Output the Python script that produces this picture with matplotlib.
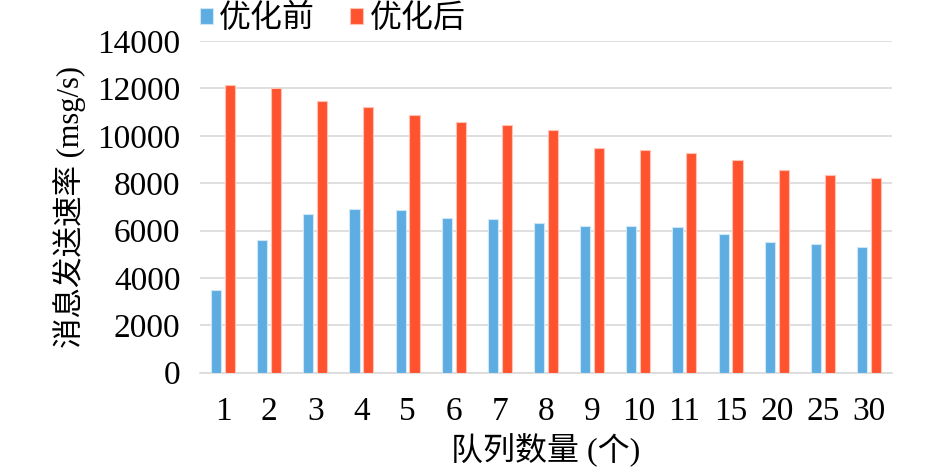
import numpy as np
import matplotlib.pyplot as plt

plt.rcParams['font.family'] = ['Liberation Serif', 'Noto Sans CJK SC']

# 队列数量
categorias = ["1", "2", "3", "4", "5", "6", "7", "8", "9", "10", "11", "15", "20", "25", "30"]
antes = [3480, 5600, 6700, 6900, 6850, 6550, 6500, 6300, 6210, 6210, 6150, 5870, 5510, 5440, 5310]
despues = [12160, 12020, 11480, 11200, 10860, 10580, 10440, 10230, 9470, 9400, 9260, 8980, 8570, 8360, 8220]

azul = "#5dade2"
rojo = "#ff5330"

fig = plt.figure(figsize=(9.46, 4.75), dpi=100)
ax = fig.add_axes([0.2114, 0.2154, 0.7316, 0.6983])

x = np.arange(len(categorias))
w = 0.22
ax.bar(x - 0.15, antes, w, color=azul, edgecolor="#cfe6f7", linewidth=0.8, label="优化前", zorder=3)
ax.bar(x + 0.15, despues, w, color=rojo, edgecolor="#ffc2b3", linewidth=0.8, label="优化后", zorder=3)

ax.set_xlim(-0.5, len(categorias) - 0.5)
ax.set_ylim(0, 14000)
ax.set_yticks(np.arange(0, 14001, 2000))
ax.set_xticks(x)
ax.set_xticklabels(categorias)
ax.grid(axis="y", color="#d9d9d9", linewidth=1.2, zorder=0)
for s in ["top", "right", "left"]:
    ax.spines[s].set_visible(False)
ax.spines["bottom"].set_color("#d9d9d9")
ax.spines["bottom"].set_linewidth(1.2)
ax.tick_params(axis="both", length=0, labelsize=24)
ax.tick_params(axis="y", pad=14)
ax.tick_params(axis="x", pad=17)

ax.set_xlabel("队列数量 (个)", fontsize=23, labelpad=5)
ax.set_ylabel("消息发送速率 (msg/s)", fontsize=22, labelpad=8)

leg = ax.legend(loc="center left", bbox_to_anchor=(0.0, 1.068), ncol=2, frameon=False,
                prop={"family": ["Noto Sans CJK SC"], "size": 23},
                handlelength=0.4, handleheight=0.4, handletextpad=0.2,
                columnspacing=1.1, borderaxespad=0, borderpad=0)

fig.savefig("out.png", dpi=100)
